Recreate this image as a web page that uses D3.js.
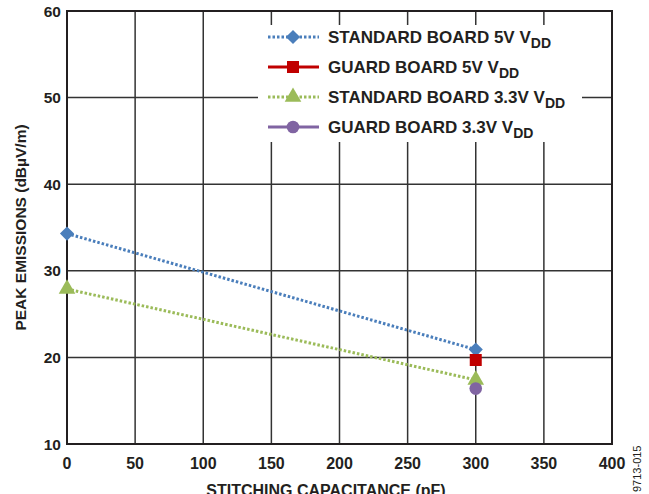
<!DOCTYPE html>
<html>
<head>
<meta charset="utf-8">
<script src="https://cdn.jsdelivr.net/npm/d3@7"></script>
<style>
  body { margin: 0; background: #fff; }
  text { font-family: Arial, "Liberation Sans", sans-serif; font-weight: bold; fill: #231f20; }
</style>
</head>
<body>
<script>
// chart data
const xTicks = [0, 50, 100, 150, 200, 250, 300, 350, 400];
const yTicks = [10, 20, 30, 40, 50, 60];

const seriesNames = ["STANDARD BOARD 5V V", "GUARD BOARD 5V V", "STANDARD BOARD 3.3V V", "GUARD BOARD 3.3V V"];
const std5 = [[0, 34.3], [300, 20.9]];
const guard5 = [[300, 19.7]];
const std33 = [[0, 27.9], [300, 17.4]];
const guard33 = [[300, 16.4]];

const width = 649, height = 494;
const margin = {left: 67, right: 37, top: 11, bottom: 50};

const svg = d3.select("body").append("svg")
    .attr("width", width)
    .attr("height", height);

const x = d3.scaleLinear().domain([0, 400]).range([margin.left, width - margin.right]);
const y = d3.scaleLinear().domain([10, 60]).range([height - margin.bottom, margin.top]);

// grid
svg.append("g")
    .selectAll("line")
    .data(xTicks)
    .enter().append("line")
    .attr("x1", d => x(d)).attr("x2", d => x(d))
    .attr("y1", y(60)).attr("y2", y(10))
    .attr("stroke", "#333").attr("stroke-width", 1.5);

svg.append("g")
    .selectAll("line")
    .data(yTicks)
    .enter().append("line")
    .attr("x1", x(0)).attr("x2", x(400))
    .attr("y1", d => y(d)).attr("y2", d => y(d))
    .attr("stroke", "#333").attr("stroke-width", 1.5);

// frame
svg.append("rect")
    .attr("x", x(0)).attr("y", y(60))
    .attr("width", x(400) - x(0)).attr("height", y(10) - y(60))
    .attr("fill", "none").attr("stroke", "#231f20").attr("stroke-width", 2);

// tick labels
svg.append("g")
    .selectAll("text")
    .data(yTicks)
    .enter().append("text")
    .attr("x", x(0) - 6).attr("y", d => y(d) + 5.5)
    .attr("text-anchor", "end")
    .attr("font-size", 15.5)
    .text(d => d);

svg.append("g")
    .selectAll("text")
    .data(xTicks)
    .enter().append("text")
    .attr("x", d => x(d)).attr("y", y(10) + 25)
    .attr("text-anchor", "middle")
    .attr("font-size", 16)
    .text(d => d);

// axis titles
svg.append("text")
    .attr("transform", `translate(26,${(y(10) + y(60)) / 2}) rotate(-90)`)
    .attr("text-anchor", "middle")
    .attr("font-size", 15.5)
    .text("PEAK EMISSIONS (dBµV/m)");

svg.append("text")
    .attr("x", 326).attr("y", 496)
    .attr("text-anchor", "middle")
    .attr("font-size", 16)
    .text("STITCHING CAPACITANCE (pF)");

svg.append("text")
    .attr("transform", "translate(641,492) rotate(-90)")
    .attr("font-size", 11)
    .style("font-weight", "normal")
    .text("9713-015");

// series styling
const series = [
  {name: seriesNames[0], data: std5, color: "#4a7ebb", dash: "2.5,2", symbol: d3.symbolSquare, size: 100, rot: 45},
  {name: seriesNames[1], data: guard5, color: "#c00000", dash: null, symbol: d3.symbolSquare, size: 144, rot: 0},
  {name: seriesNames[2], data: std33, color: "#9bbb59", dash: "2.5,2", symbol: d3.symbolTriangle, size: 120, rot: 0},
  {name: seriesNames[3], data: guard33, color: "#8064a2", dash: null, symbol: d3.symbolCircle, size: 125, rot: 0}
];

const line = d3.line().x(d => x(d[0])).y(d => y(d[1]));

series.forEach(s => {
  if (s.data.length > 1) {
    svg.append("path")
        .datum(s.data)
        .attr("d", line)
        .attr("fill", "none")
        .attr("stroke", s.color)
        .attr("stroke-width", 3)
        .attr("stroke-dasharray", s.dash);
  }
  svg.append("g")
      .selectAll("path")
      .data(s.data)
      .enter().append("path")
      .attr("d", d3.symbol().type(s.symbol).size(s.size))
      .attr("transform", d => `translate(${x(d[0])},${y(d[1])}) rotate(${s.rot})`)
      .attr("fill", s.color);
});

// legend
const legend = svg.append("g");
legend.append("rect")
    .attr("x", 258).attr("y", 25)
    .attr("width", 324).attr("height", 117)
    .attr("fill", "#fff");

series.forEach((s, i) => {
  const ly = 37 + i * 30;
  legend.append("line")
      .attr("x1", 268).attr("x2", 319)
      .attr("y1", ly).attr("y2", ly)
      .attr("stroke", s.color)
      .attr("stroke-width", 3)
      .attr("stroke-dasharray", s.dash);
  legend.append("path")
      .attr("d", d3.symbol().type(s.symbol).size(s.size))
      .attr("transform", `translate(293,${ly}) rotate(${s.rot})`)
      .attr("fill", s.color);
  const t = legend.append("text")
      .attr("x", 328).attr("y", ly + 6)
      .attr("font-size", 17);
  t.append("tspan").text(s.name);
  t.append("tspan").attr("dy", 5).attr("font-size", 14).text("DD");
});
</script>
</body>
</html>
